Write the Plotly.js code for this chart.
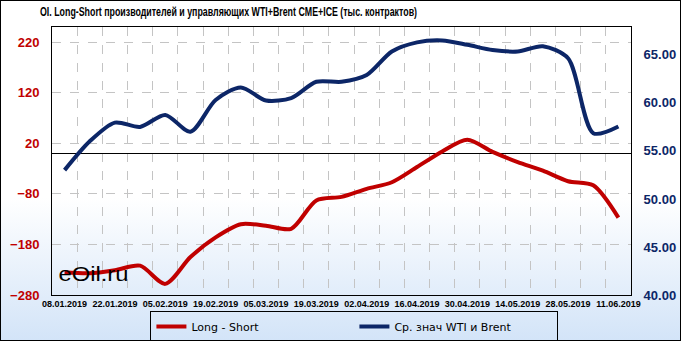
<!DOCTYPE html>
<html>
<head>
<meta charset="utf-8">
<script src="https://cdn.plot.ly/plotly-3.0.1.min.js"></script>
<style>
html,body{margin:0;padding:0;}
#wrap{position:relative;width:681px;height:341px;background:linear-gradient(to bottom,#ffffff 0%,#ffffff 58%,#d3e4f8 100%);}
#chart{position:absolute;left:0;top:0;width:681px;height:341px;}
#frame{position:absolute;left:0;top:0;width:679px;height:339px;border:1px solid #000;pointer-events:none;}
</style>
</head>
<body>
<div id="wrap"><div id="chart"></div><div id="frame"></div></div>
<script>
const dates = ["2019-01-08","2019-01-15","2019-01-22","2019-01-29","2019-02-05","2019-02-12","2019-02-19","2019-02-26",
  "2019-03-05","2019-03-12","2019-03-19","2019-03-26","2019-04-02","2019-04-09","2019-04-16","2019-04-23","2019-04-30",
  "2019-05-07","2019-05-14","2019-05-21","2019-05-28","2019-06-04","2019-06-11"];
const longShort = [-235,-237,-231,-222,-258,-205,-166,-140,-143,-149,-93,-86,-70,-57,-27,4,27,3,-17,-34,-55,-63,-127];
const avgWtiBrent = [53.0,56.0,57.95,57.5,58.75,57.0,60.3,61.6,60.25,60.5,62.2,62.2,62.9,65.35,66.3,66.5,66.05,65.5,65.35,65.9,64.65,56.85,57.55];
const seriesNames = ["Long - Short","Ср. знач WTI и Brent"];
const titleText = "OI. Long-Short производителей и управляющих WTI+Brent CME+ICE (тыс. контрактов)";
const watermark = "eOil.ru";

const DAY = 86400000;
const traces = [
  {x: dates, y: longShort, name: seriesNames[0], type: "scatter", mode: "lines",
   line: {color: "#c00000", width: 4, shape: "spline", smoothing: 0.8}, yaxis: "y"},
  {x: dates, y: avgWtiBrent, name: seriesNames[1], type: "scatter", mode: "lines",
   line: {color: "#0c2667", width: 4, shape: "spline", smoothing: 0.8}, yaxis: "y2"}
];
const layout = {
  width: 681, height: 341,
  margin: {l: 51.5, r: 50, t: 27.3, b: 46, autoexpand: false},
  paper_bgcolor: "rgba(0,0,0,0)", plot_bgcolor: "rgba(0,0,0,0)",
  showlegend: true,
  title: {text: "<b>" + titleText + "</b>", xref: "container", yref: "container",
          x: 40/681, xanchor: "left", y: 1 - 12/341, yanchor: "middle",
          font: {family: "Liberation Sans, Arial, sans-serif", size: 12, color: "#000"}},
  xaxis: {type: "date", range: ["2019-01-04 12:00", "2019-06-14 12:00"],
          tick0: "2019-01-08", dtick: 14*DAY, tickformat: "%d.%m.%Y",
          showgrid: false, zeroline: false, ticks: "",
          tickfont: {family: "Liberation Sans, Arial, sans-serif", size: 9, color: "#000", weight: "bold"},
          showline: true, linecolor: "#000", linewidth: 1, mirror: true,
          minor: {showgrid: true, tick0: "2019-01-04 12:00", dtick: 7*DAY, gridcolor: "#c4c4c4", griddash: "dash", gridwidth: 1}},
  yaxis: {range: [-280, 250], tick0: -280, dtick: 100, showgrid: true, gridcolor: "#c4c4c4", griddash: "dash",
          zeroline: true, zerolinecolor: "#000", zerolinewidth: 1,
          ticks: "outside", ticklen: 9, tickcolor: "rgba(0,0,0,0)",
          tickfont: {family: "Liberation Sans, Arial, sans-serif", size: 13, color: "#c00000", weight: "bold"},
          showline: true, linecolor: "#000", linewidth: 1, mirror: true},
  yaxis2: {overlaying: "y", side: "right", range: [40, 67.9], tick0: 40, dtick: 5, tickformat: ".2f",
           showgrid: false, zeroline: false, ticks: "outside", ticklen: 9, tickcolor: "rgba(0,0,0,0)",
           tickfont: {family: "Liberation Sans, Arial, sans-serif", size: 13, color: "#0c2667", weight: "bold"}},
  legend: {orientation: "h", x: (150-51.5)/579.5, xanchor: "left", y: -(311-295)/267.7, yanchor: "top",
           bgcolor: "rgba(0,0,0,0)", bordercolor: "#000", borderwidth: 1,
           entrywidth: 158, entrywidthmode: "pixels",
           font: {family: "DejaVu Sans, Verdana, sans-serif", size: 11, color: "#000"}},
  annotations: [{text: watermark, xref: "paper", yref: "paper", x: (61.5-51.5)/579.5, xanchor: "left",
                 y: (295-274)/267.7, yanchor: "middle", showarrow: false,
                 font: {family: "Liberation Sans, Arial, sans-serif", size: 20, color: "#000"}}]
};
Plotly.newPlot("chart", traces, layout, {displayModeBar: false, staticPlot: true}).then(function(gd){
  const t = gd.querySelector(".gtitle");
  if (t) { t.setAttribute("textLength", "377"); t.setAttribute("lengthAdjust", "spacingAndGlyphs"); }
  const a = gd.querySelector(".annotation-text");
  if (a) { a.setAttribute("textLength", "70"); a.setAttribute("lengthAdjust", "spacingAndGlyphs"); }
});
</script>
</body>
</html>
